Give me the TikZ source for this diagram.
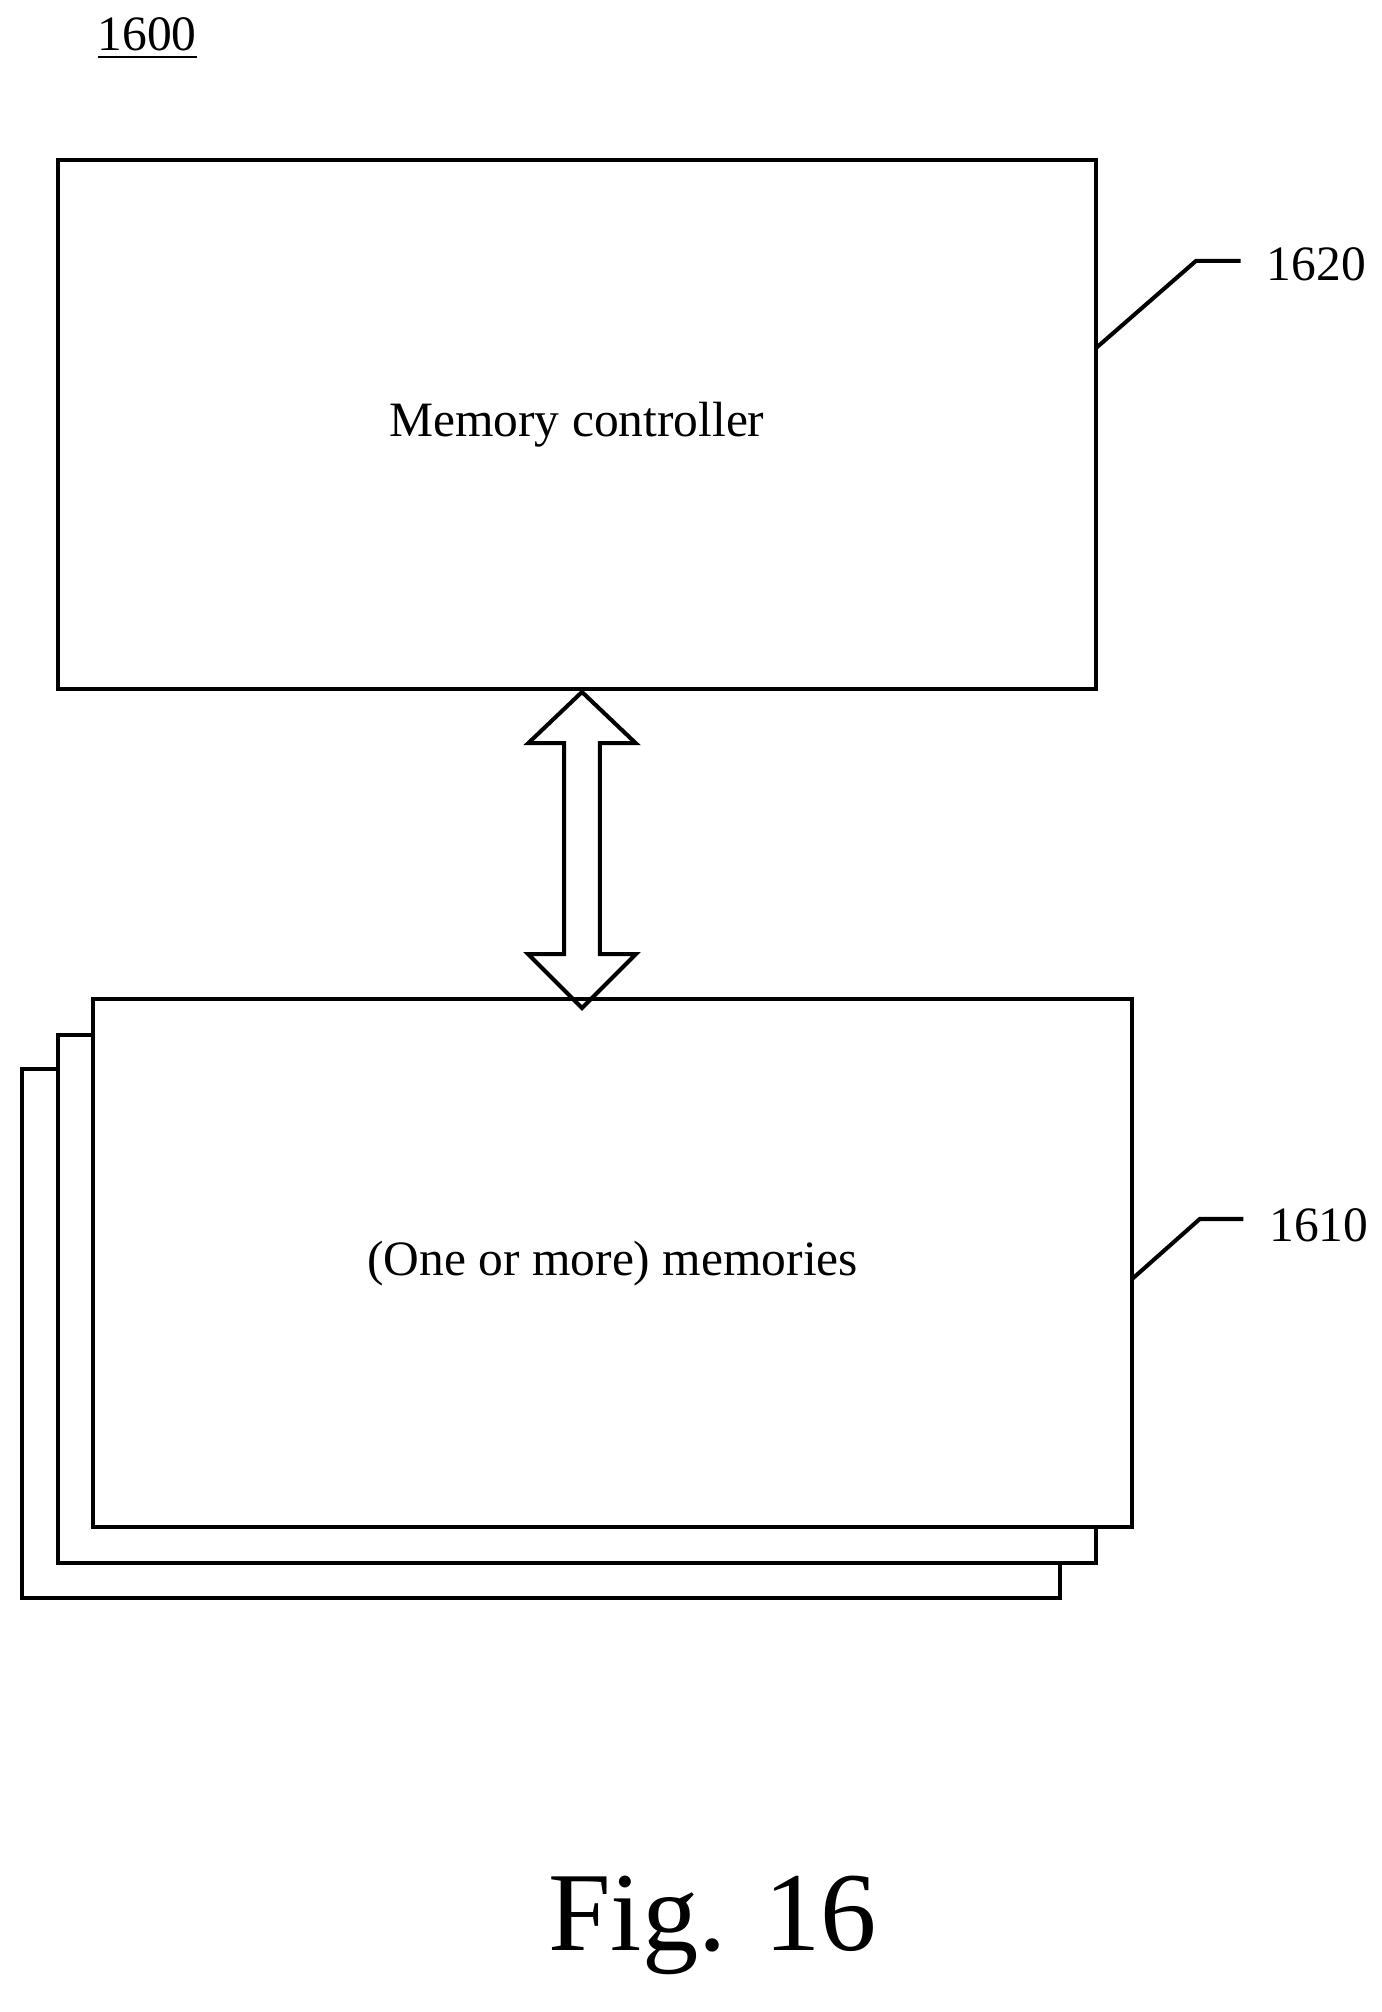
\documentclass[tikz,border=0pt]{standalone}
\usepackage{fontspec}
\setmainfont{Liberation Serif}
\begin{document}
\begin{tikzpicture}[x=0.01cm,y=-0.01cm,
 box/.style={draw,line width=0.9pt,fill=white},
 lbl/.style={font=\fontsize{11}{13}\selectfont},
 ln/.style={line width=0.9pt}]
\useasboundingbox (0,0) rectangle (1080,1573);
\node[lbl] (n1600) at (115,30) {\underline{1600}};
\draw[box] (45,125) rectangle (857,539);
\node[lbl] (mc) at (451,332) {Memory controller};
\coordinate (mcR) at (857,272);
\draw[box] (17,836) rectangle (829,1249);
\draw[box] (45,809) rectangle (857,1222);
\draw[box] (73,781) rectangle (885,1194);
\node[lbl] (mem) at (479,988) {(One or more) memories};
\coordinate (memR) at (885,1000);
\draw[ln,line join=miter] (455,541) -- (497,581) -- (469,581) -- (469,746) -- (497,746) -- (455,788) -- (413,746) -- (441,746) -- (441,581) -- (413,581) -- cycle;
\node[lbl,anchor=west] (l1620) at (978,207) {1620};
\node[lbl,anchor=west] (l1610) at (980,958) {1610};
\coordinate (e1620) at (970,204);
\coordinate (e1610) at (972,953);
\draw[ln] (mcR) -- (935,204) -- (e1620);
\draw[ln] (memR) -- (938,953) -- (e1610);
\node[font=\fontsize{25}{28}\selectfont] (fig) at (557,1505) {Fig. 16};
\end{tikzpicture}
\end{document}
